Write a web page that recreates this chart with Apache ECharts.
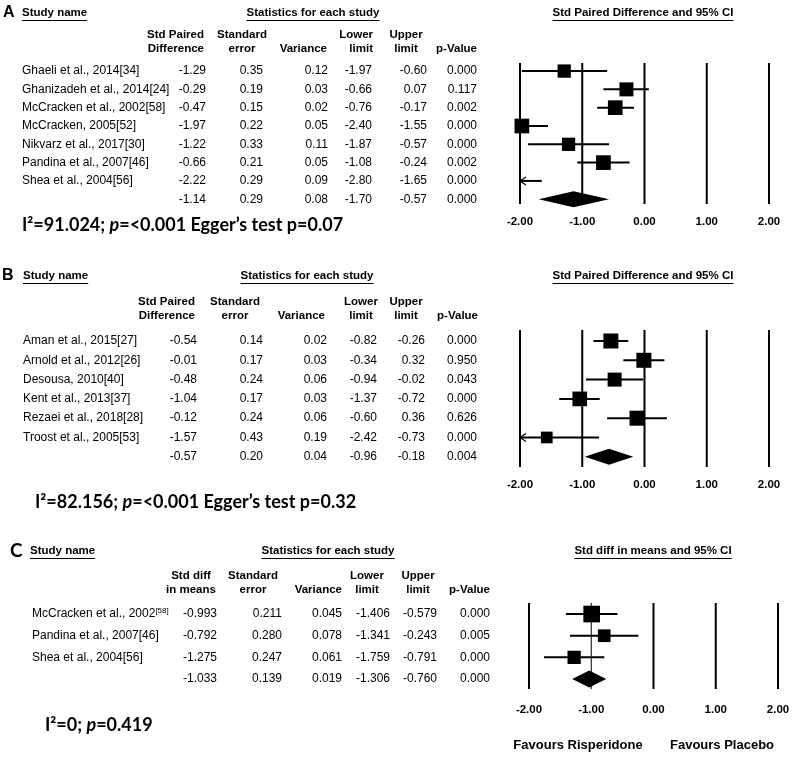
<!DOCTYPE html>
<html><head><meta charset="utf-8">
<script src="https://cdn.jsdelivr.net/npm/echarts@6/dist/echarts.min.js"></script>
<style>html,body{margin:0;padding:0;background:#fff}#c{width:796px;height:758px}</style>
</head><body><div id="c"></div>
<script>
// ---------- DATA ----------
const ticks = [-2, -1, 0, 1, 2];

// Panel A
const studiesA = ['Ghaeli et al., 2014[34]', 'Ghanizadeh et al., 2014[24]', 'McCracken et al., 2002[58]', 'McCracken, 2005[52]', 'Nikvarz et al., 2017[30]', 'Pandina et al., 2007[46]', 'Shea et al., 2004[56]'];
const effectA = [-1.29, -0.29, -0.47, -1.97, -1.22, -0.66, -2.22];
const seA = [0.35, 0.19, 0.15, 0.22, 0.33, 0.21, 0.29];
const varA = [0.12, 0.03, 0.02, 0.05, 0.11, 0.05, 0.09];
const lowerA = [-1.97, -0.66, -0.76, -2.40, -1.87, -1.08, -2.80];
const upperA = [-0.60, 0.07, -0.17, -1.55, -0.57, -0.24, -1.65];
const pA = [0.000, 0.117, 0.002, 0.000, 0.000, 0.002, 0.000];
const weightA = [12.7, 14.1, 15.5, 15.5, 12.7, 15.5, 14.1];
const summaryA = [-1.14, 0.29, 0.08, -1.70, -0.57, 0.000];
const i2A = '91.024', pHetA = '<0.001', eggerA = '0.07';

// Panel B
const studiesB = ['Aman et al., 2015[27]', 'Arnold et al., 2012[26]', 'Desousa, 2010[40]', 'Kent et al., 2013[37]', 'Rezaei et al., 2018[28]', 'Troost et al., 2005[53]'];
const effectB = [-0.54, -0.01, -0.48, -1.04, -0.12, -1.57];
const seB = [0.14, 0.17, 0.24, 0.17, 0.24, 0.43];
const varB = [0.02, 0.03, 0.06, 0.03, 0.06, 0.19];
const lowerB = [-0.82, -0.34, -0.94, -1.37, -0.60, -2.42];
const upperB = [-0.26, 0.32, -0.02, -0.72, 0.36, -0.73];
const pB = [0.000, 0.950, 0.043, 0.000, 0.626, 0.000];
const weightB = [18.4, 18.4, 16.0, 17.6, 18.4, 11.2];
const summaryB = [-0.57, 0.20, 0.04, -0.96, -0.18, 0.004];
const i2B = '82.156', pHetB = '<0.001', eggerB = '0.32';

// Panel C
const studiesC = ['McCracken et al., 2002', 'Pandina et al., 2007[46]', 'Shea et al., 2004[56]'];
const studyRefC = ['[58]', '', ''];
const effectC = [-0.993, -0.792, -1.275];
const seC = [0.211, 0.280, 0.247];
const varC = [0.045, 0.078, 0.061];
const lowerC = [-1.406, -1.341, -1.759];
const upperC = [-0.579, -0.243, -0.791];
const pC = [0.000, 0.005, 0.000];
const weightC = [45.2, 26.1, 28.7];
const summaryC = [-1.033, 0.139, 0.019, -1.306, -0.760, 0.000];
const i2C = '0', pHetC = '0.419';

const headersAB = [['Std Paired', 'Difference'], ['Standard', 'error'], ['', 'Variance'], ['Lower', 'limit'], ['Upper', 'limit'], ['', 'p-Value']];
const headersC = [['Std diff', 'in means'], ['Standard', 'error'], ['', 'Variance'], ['Lower', 'limit'], ['Upper', 'limit'], ['', 'p-Value']];
const plotTitleAB = 'Std Paired Difference and 95% CI';
const plotTitleC = 'Std diff in means and 95% CI';
const favourLeft = 'Favours Risperidone', favourRight = 'Favours Placebo';

// ---------- LAYOUT ----------
const panels = [
  {grid: {left: 520, width: 249, top: 63, height: 141}, yMin: -0.44, yMax: 7.26, lineW: [2, 2, 2, 2, 2], k: 3.73, dh: 8, labelMargin: 12},
  {grid: {left: 520, width: 249, top: 330, height: 137}, yMin: -0.57, yMax: 6.53, lineW: [2, 2, 2, 2, 2], k: 3.5, dh: 8, labelMargin: 12},
  {grid: {left: 529, width: 249, top: 603, height: 86}, yMin: -0.51, yMax: 3.46, lineW: [2, 1, 2, 2, 2], k: 2.48, dh: 8.5, labelMargin: 15}
];
function rowY(p, r) { const P = panels[p]; return P.grid.top + (r - P.yMin) / (P.yMax - P.yMin) * P.grid.height; }

const FONT = '"Liberation Sans", Arial, sans-serif';
const cv = document.createElement('canvas').getContext('2d');
function textW(t, font) { cv.font = font; return cv.measureText(t).width; }

const G = [];
function T(text, x, y, st) {
  G.push({type: 'text', x: x, y: y, silent: true, z: 10,
    style: Object.assign({text: text, fill: '#000', fontFamily: FONT, fontSize: 12, fontWeight: 'normal',
      align: 'left', textAlign: 'left', verticalAlign: 'middle', textVerticalAlign: 'middle'}, st || {})});
}
function L(x1, y1, x2, y2, w) {
  G.push({type: 'line', silent: true, z: 10, shape: {x1: x1, y1: y1, x2: x2, y2: y2}, style: {stroke: '#000', lineWidth: w || 1}});
}
function headerU(text, x, y, align, size) {
  const fs = size || 11.5;
  const w = textW(text, 'bold ' + fs + 'px ' + FONT);
  T(text, x, y, {fontWeight: 'bold', fontSize: fs, align: align, textAlign: align});
  const x0 = align === 'center' ? x - w / 2 : x;
  L(x0, y + 7.5, x0 + w, y + 7.5, 1);
}

function buildTable(p, cfg) {
  T(cfg.letter, cfg.letterX, cfg.titleY, {fontWeight: 'bold', fontSize: cfg.letterSize || 16, fontFamily: cfg.letterFont || FONT});
  headerU('Study name', cfg.nameX, cfg.titleY, 'left');
  headerU('Statistics for each study', cfg.statsX, cfg.titleY, 'center');
  headerU(cfg.plotTitle, cfg.plotTitleX, cfg.plotTitleY, 'center');
  cfg.headers.forEach((h, j) => {
    const a = cfg.hAnchor[j];
    if (h[0]) T(h[0], a[0], cfg.h1Y, {fontWeight: 'bold', fontSize: 11.5, align: a[1], textAlign: a[1]});
    T(h[1], a[0], cfg.h2Y, {fontWeight: 'bold', fontSize: 11.5, align: a[1], textAlign: a[1]});
  });
  const n = cfg.names.length;
  const cols = cfg.cols;
  for (let i = 0; i <= n; i++) {
    const y = rowY(p, i);
    if (i < n) {
      if (cfg.refs && cfg.refs[i]) {
        T(cfg.names[i] + '{s|' + cfg.refs[i] + '}', cfg.nameX2, y, {rich: {s: {fontSize: 8, fontFamily: FONT, verticalAlign: 'top', padding: [0, 0, 6, 0]}}});
      } else {
        T(cfg.names[i], cfg.nameX2, y);
      }
    }
    const vals = i < n ? [cols[0][i], cols[1][i], cols[2][i], cols[3][i], cols[4][i], cols[5][i]] : cfg.summary;
    vals.forEach((v, j) => {
      const s = j === 5 ? v.toFixed(3) : v.toFixed(cfg.dec);
      T(s, cfg.vRight[j], y, {align: 'right', textAlign: 'right'});
    });
  }
}

buildTable(0, {letter: 'A', letterX: 3, titleY: 13, nameX: 22, nameX2: 22, statsX: 313, plotTitle: plotTitleAB, plotTitleX: 643, plotTitleY: 13,
  headers: headersAB, h1Y: 35, h2Y: 49,
  hAnchor: [[204, 'right'], [242, 'center'], [327, 'right'], [373, 'right'], [406, 'center'], [477, 'right']],
  names: studiesA, cols: [effectA, seA, varA, lowerA, upperA, pA], summary: summaryA, dec: 2,
  vRight: [206, 263, 328, 372, 427, 477]});
buildTable(1, {letter: 'B', letterX: 2, titleY: 276, nameX: 23, nameX2: 23, statsX: 307, plotTitle: plotTitleAB, plotTitleX: 643, plotTitleY: 276,
  headers: headersAB, h1Y: 302, h2Y: 316,
  hAnchor: [[195, 'right'], [235, 'center'], [325, 'right'], [361, 'center'], [406, 'center'], [478, 'right']],
  names: studiesB, cols: [effectB, seB, varB, lowerB, upperB, pB], summary: summaryB, dec: 2,
  vRight: [197, 263, 327, 377, 425, 477]});
buildTable(2, {letter: 'C', letterX: 10, letterSize: 19, letterFont: 'Lato', titleY: 551, nameX: 30, nameX2: 32, statsX: 328, plotTitle: plotTitleC, plotTitleX: 653, plotTitleY: 551,
  headers: headersC, h1Y: 576, h2Y: 590,
  hAnchor: [[191, 'center'], [253, 'center'], [342, 'right'], [367, 'center'], [418, 'center'], [490, 'right']],
  names: studiesC, refs: studyRefC, cols: [effectC, seC, varC, lowerC, upperC, pC], summary: summaryC, dec: 3,
  vRight: [217, 282, 342, 390, 437, 490]});

const hetStyle = {fontFamily: 'Lato', fontWeight: 'bold', fontSize: 18, rich: {i: {fontFamily: 'Lato', fontWeight: 'bold', fontStyle: 'italic', fontSize: 18}}};
T('I\u00B2=' + i2A + '; {i|p}=' + pHetA + ' Egger\u2019s test p=' + eggerA, 22, 225, hetStyle);
T('I\u00B2=' + i2B + '; {i|p}=' + pHetB + ' Egger\u2019s test p=' + eggerB, 35, 502, hetStyle);
T('I\u00B2=' + i2C + '; {i|p}=' + pHetC, 45, 725, hetStyle);
T(favourLeft, 578, 745, {fontWeight: 'bold', fontSize: 13, align: 'center', textAlign: 'center'});
T(favourRight, 722, 745, {fontWeight: 'bold', fontSize: 13, align: 'center', textAlign: 'center'});

// ---------- SERIES ----------
function refLines(p) {
  const P = panels[p];
  return {type: 'custom', xAxisIndex: p, yAxisIndex: p, clip: false, z: 1, silent: true,
    encode: {x: 0}, data: ticks.map((t, i) => [t, P.lineW[i]]),
    renderItem: function (params, api) {
      const a = api.coord([api.value(0), P.yMin]), b = api.coord([api.value(0), P.yMax]);
      return {type: 'line', shape: {x1: a[0], y1: a[1], x2: b[0], y2: b[1]}, style: {stroke: '#000', lineWidth: api.value(1)}};
    }};
}
function studySeries(p, eff, lo, hi, w) {
  const P = panels[p];
  return {type: 'custom', xAxisIndex: p, yAxisIndex: p, clip: false, z: 3, silent: true,
    encode: {x: [0, 1, 2], y: 3}, data: eff.map((e, i) => [e, lo[i], hi[i], i, w[i]]),
    renderItem: function (params, api) {
      const e = api.value(0), l = api.value(1), h = api.value(2), r = api.value(3), wt = api.value(4);
      const A = api.coord([Math.max(l, -2), r]), B = api.coord([Math.min(h, 2), r]);
      const ch = [{type: 'line', shape: {x1: A[0], y1: A[1], x2: B[0], y2: B[1]}, style: {stroke: '#000', lineWidth: 2}}];
      if (l < -2) ch.push({type: 'polyline', shape: {points: [[A[0] + 6, A[1] - 4], [A[0], A[1]], [A[0] + 6, A[1] + 4]]}, style: {stroke: '#000', fill: null, lineWidth: 1.2}});
      if (e >= -2 && e <= 2) {
        const c = api.coord([e, r]); const s = P.k * Math.sqrt(wt);
        ch.push({type: 'rect', shape: {x: c[0] - s / 2, y: c[1] - s / 2, width: s, height: s}, style: {fill: '#000'}});
      }
      return {type: 'group', children: ch};
    }};
}
function diamondSeries(p, sum, row) {
  const P = panels[p];
  return {type: 'custom', xAxisIndex: p, yAxisIndex: p, clip: false, z: 3, silent: true,
    encode: {x: [0, 1, 2], y: 3}, data: [[sum[0], sum[3], sum[4], row]],
    renderItem: function (params, api) {
      const c = api.coord([api.value(0), api.value(3)]);
      const a = api.coord([api.value(1), api.value(3)]), b = api.coord([api.value(2), api.value(3)]);
      return {type: 'polygon', shape: {points: [[a[0], a[1]], [c[0], c[1] - P.dh], [b[0], b[1]], [c[0], c[1] + P.dh]]}, style: {fill: '#000'}};
    }};
}

const option = {
  backgroundColor: '#fff',
  animation: false,
  grid: panels.map(P => Object.assign({}, P.grid)),
  xAxis: panels.map((P, i) => ({type: 'value', gridIndex: i, min: -2, max: 2, interval: 1,
    axisLine: {show: false}, axisTick: {show: false}, splitLine: {show: false},
    axisLabel: {formatter: v => v.toFixed(2), fontWeight: 'bold', fontSize: 11.5, color: '#000', fontFamily: FONT, margin: P.labelMargin}})),
  yAxis: panels.map((P, i) => ({type: 'value', gridIndex: i, min: P.yMin, max: P.yMax, inverse: true, show: false})),
  series: [
    refLines(0), refLines(1), refLines(2),
    studySeries(0, effectA, lowerA, upperA, weightA), diamondSeries(0, summaryA, effectA.length),
    studySeries(1, effectB, lowerB, upperB, weightB), diamondSeries(1, summaryB, effectB.length),
    studySeries(2, effectC, lowerC, upperC, weightC), diamondSeries(2, summaryC, effectC.length)
  ],
  graphic: {elements: G}
};
const chart = echarts.init(document.getElementById('c'), null, {renderer: 'canvas'});
chart.setOption(option);
</script></body></html>
